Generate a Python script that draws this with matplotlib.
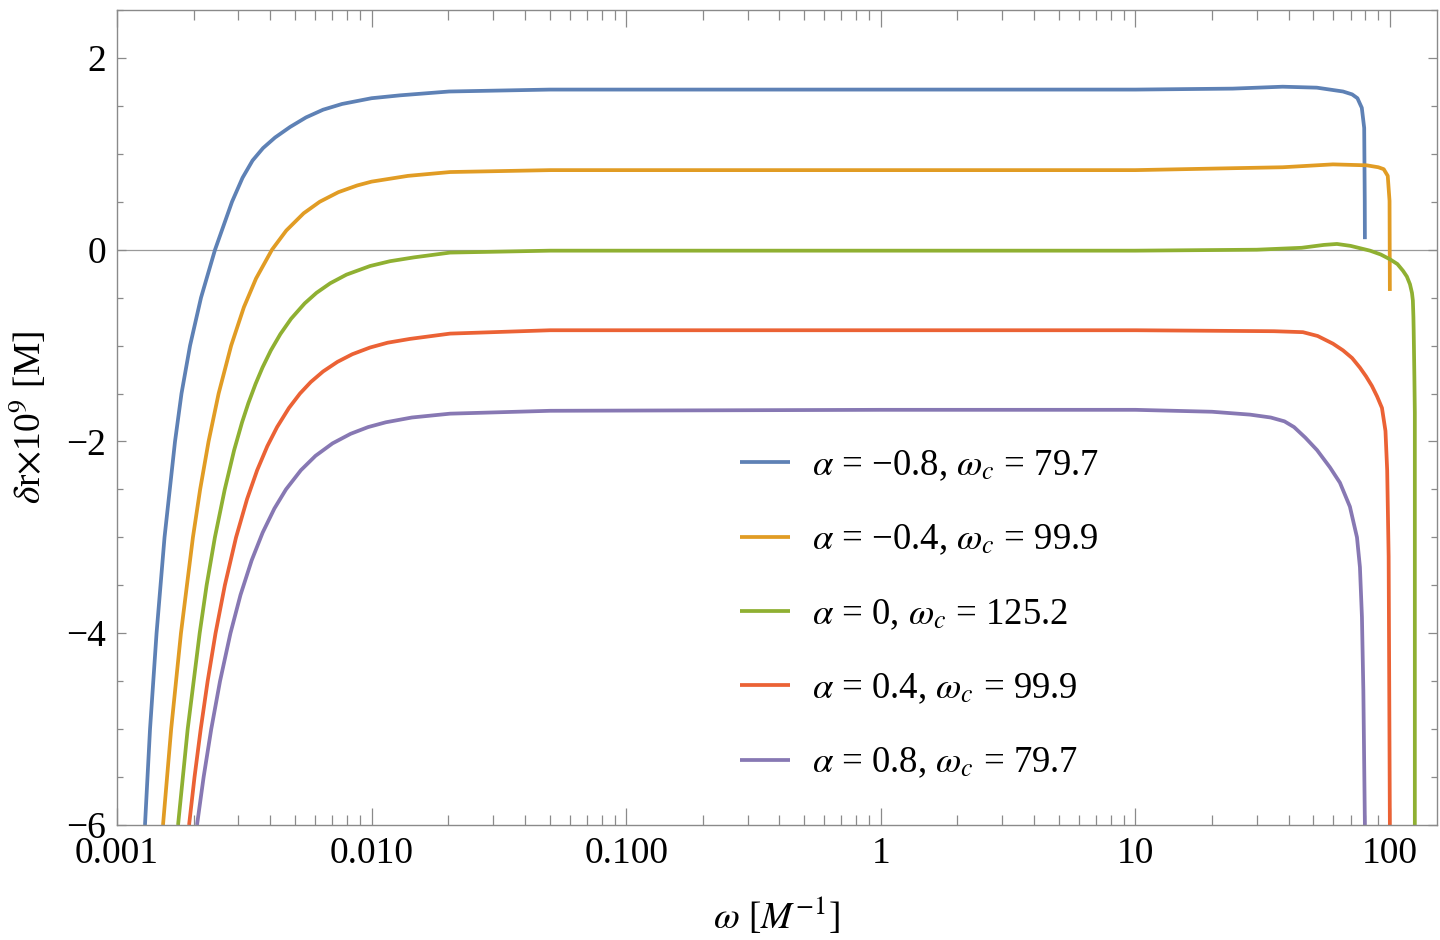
import numpy as np
import matplotlib
matplotlib.use("Agg")
import matplotlib.pyplot as plt
from matplotlib.ticker import FixedLocator, MultipleLocator, NullFormatter

plt.rcParams['font.family'] = ['Liberation Serif', 'DejaVu Serif']
plt.rcParams['mathtext.fontset'] = 'stix'
plt.rcParams['axes.unicode_minus'] = True

# valeurs (omega en M^-1, delta r x 1e9 en M)
w_blue = [0.001288, 0.001348, 0.001430, 0.001537, 0.001690, 0.001792, 0.001936, 0.002138,
          0.002427, 0.002830, 0.003112, 0.003407, 0.003747, 0.004176, 0.004784, 0.005529,
          0.006448, 0.007656, 0.0100, 0.01294, 0.02016, 0.05, 1.0, 10.0, 24.1, 37.9,
          51.6, 65.4, 71.0, 74.5, 77.5, 79.2, 79.6, 79.7]
r_blue = [-6.0, -5.0, -4.0, -3.0, -2.0, -1.5, -1.0, -0.5,
          0.0, 0.5, 0.75, 0.93, 1.06, 1.17, 1.28, 1.38,
          1.46, 1.52, 1.58, 1.61, 1.65, 1.67, 1.67, 1.67, 1.68, 1.70,
          1.69, 1.65, 1.62, 1.58, 1.48, 1.27, 0.51, 0.11]

w_orange = [0.001516, 0.001632, 0.001783, 0.001987, 0.002121, 0.002289, 0.002507, 0.002808,
            0.003150, 0.003517, 0.004062, 0.004623, 0.005410, 0.006255, 0.007405, 0.008777,
            0.0100, 0.01389, 0.02034, 0.05029, 1.0, 10.0, 24.1, 37.9,
            59.7, 81.0, 90.0, 94.5, 98.0, 99.6, 99.9]
r_orange = [-6.0, -5.0, -4.0, -3.0, -2.5, -2.0, -1.5, -1.0,
            -0.6, -0.3, 0.0, 0.2, 0.38, 0.50, 0.60, 0.67,
            0.71, 0.77, 0.81, 0.83, 0.83, 0.83, 0.85, 0.86,
            0.89, 0.88, 0.86, 0.84, 0.77, 0.51, -0.43]

w_green = [0.001737, 0.001895, 0.002112, 0.002249, 0.002424, 0.002650, 0.002885, 0.003099,
           0.003281, 0.003501, 0.003726, 0.004021, 0.004382, 0.004828, 0.005459, 0.006074,
           0.006879, 0.007969, 0.009865, 0.01181, 0.01467, 0.02034, 0.05029,
           1.0, 10.0, 30.0, 45.0, 55.0, 61.9, 70.0, 83.5, 92.0, 100.0, 107.0, 112.5,
           116.5, 119.8, 122.0, 123.0, 123.6, 123.9, 124.2, 124.7, 125.2, 125.2]
r_green = [-6.0, -5.0, -4.0, -3.5, -3.0, -2.5, -2.09, -1.8,
           -1.6, -1.4, -1.23, -1.05, -0.88, -0.72, -0.56, -0.45,
           -0.35, -0.26, -0.17, -0.12, -0.08, -0.03, -0.01,
           -0.01, -0.01, 0.0, 0.02, 0.05, 0.06, 0.04, -0.01, -0.05, -0.10, -0.15, -0.22,
           -0.28, -0.36, -0.45, -0.53, -0.70, -0.84, -1.02, -1.33, -1.7, -6.0]

w_red = [0.001919, 0.002016, 0.002132, 0.002270, 0.002438, 0.002652, 0.002935, 0.003243,
         0.003552, 0.003893, 0.004253, 0.004737, 0.005232, 0.005769, 0.006448, 0.007340,
         0.008400, 0.009865, 0.01156, 0.01417, 0.02034, 0.05029, 1.0, 10.0, 35.0, 45.5,
         52.0, 59.7, 65.4, 71.0, 76.2, 80.5, 84.9, 89.0, 93.0, 96.0, 97.5, 98.8, 99.9]
r_red = [-6.0, -5.5, -5.0, -4.5, -4.0, -3.5, -3.0, -2.6,
         -2.3, -2.05, -1.85, -1.65, -1.5, -1.38, -1.27, -1.17,
         -1.09, -1.02, -0.97, -0.93, -0.875, -0.84, -0.84, -0.84, -0.85, -0.86,
         -0.90, -0.98, -1.05, -1.13, -1.23, -1.32, -1.42, -1.53, -1.65, -1.89, -2.30, -3.2, -6.0]

w_purple = [0.002062, 0.002189, 0.002345, 0.002539, 0.002790, 0.003056, 0.003380, 0.003734,
            0.004150, 0.004610, 0.005275, 0.006020, 0.007022, 0.008272, 0.009688, 0.01137,
            0.01440, 0.02034, 0.05029, 1.0, 10.0,
            20.0, 28.2, 34.0, 38.5, 42.0, 46.5, 51.7, 58.1, 63.6, 69.6, 74.2, 76.2, 77.6, 78.6, 79.7]
r_purple = [-6.0, -5.5, -5.0, -4.5, -4.0, -3.6, -3.24, -2.95,
            -2.7, -2.5, -2.3, -2.15, -2.02, -1.92, -1.85, -1.80,
            -1.75, -1.71, -1.68, -1.67, -1.67,
            -1.69, -1.72, -1.75, -1.79, -1.85, -1.96, -2.09, -2.27, -2.43, -2.68, -3.0, -3.31, -3.83, -4.6, -6.0]

labels = [r'$\alpha$ = −0.8, $\omega_c$ = 79.7',
          r'$\alpha$ = −0.4, $\omega_c$ = 99.9',
          r'$\alpha$ = 0, $\omega_c$ = 125.2',
          r'$\alpha$ = 0.4, $\omega_c$ = 99.9',
          r'$\alpha$ = 0.8, $\omega_c$ = 79.7']
colors = ['#5E81B5', '#E19C24', '#8FB032', '#EB6235', '#8778B3']

xticks = [0.001, 0.01, 0.1, 1, 10, 100]
xticklabels = ['0.001', '0.010', '0.100', '1', '10', '100']

fig = plt.figure(figsize=(14.4, 9.4), dpi=100)
ax = fig.add_axes([117 / 1440, 115 / 940, 1320 / 1440, 815 / 940])

ax.axhline(0, color='#9a9a9a', lw=0.9, zorder=1)

series = [(w_blue, r_blue), (w_orange, r_orange), (w_green, r_green),
          (w_red, r_red), (w_purple, r_purple)]
for (w, r), c, lab in zip(series, colors, labels):
    ax.plot(w, r, color=c, lw=2.7, label=lab, zorder=2,
            solid_joinstyle='round', solid_capstyle='butt')

ax.set_xscale('log')
ax.set_xlim(0.001, 153)
ax.set_ylim(-6, 2.5)

ax.xaxis.set_major_locator(FixedLocator(xticks))
ax.set_xticklabels(xticklabels)
ax.xaxis.set_minor_locator(FixedLocator(
    [m * 10.0 ** e for e in range(-3, 3) for m in range(2, 10) if m * 10.0 ** e < 153]))
ax.xaxis.set_minor_formatter(NullFormatter())
ax.set_yticks([-6, -4, -2, 0, 2])
ax.yaxis.set_minor_locator(MultipleLocator(0.5))

for s in ax.spines.values():
    s.set_color('#8a8a8a')
    s.set_linewidth(1.0)

ax.tick_params(axis='both', which='both', direction='in', top=True, right=True,
               colors='#8a8a8a', labelcolor='black', labelsize=27, width=0.9)
ax.tick_params(axis='x', which='major', length=12, pad=8)
ax.tick_params(axis='x', which='minor', length=7)
ax.tick_params(axis='y', which='major', length=6.5, pad=8)
ax.tick_params(axis='y', which='minor', length=4)

ax.set_xlabel(r'$\omega$ [$M^{-1}$]', fontsize=27, labelpad=18)
ax.set_ylabel(r'$\delta$r$\times$10$^9$ [M]', fontsize=27, labelpad=12)

ax.legend(loc='upper left', bbox_to_anchor=(0.472, 0.462), frameon=False,
          fontsize=26.5, handlelength=1.35, handletextpad=0.6, labelspacing=1.08,
          borderpad=0, borderaxespad=0)

fig.savefig('out.png', dpi=100)
